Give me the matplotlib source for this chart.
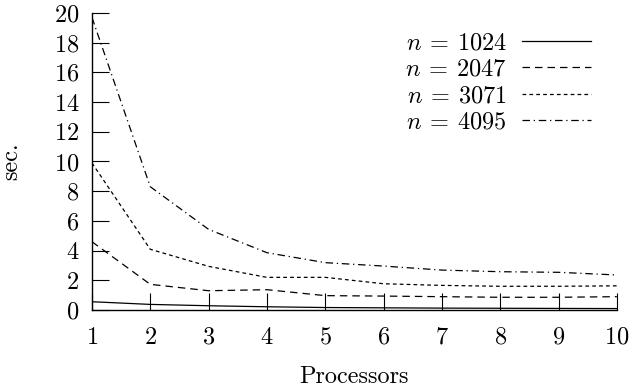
import matplotlib
matplotlib.use('Agg')
import matplotlib.pyplot as plt

plt.rcParams['font.family'] = 'serif'
plt.rcParams['font.serif'] = ['cmr10']
plt.rcParams['mathtext.fontset'] = 'cm'
plt.rcParams['axes.formatter.use_mathtext'] = True

processors = [1, 2, 3, 4, 5, 6, 7, 8, 9, 10]
t1024 = [0.56, 0.38, 0.29, 0.22, 0.17, 0.15, 0.13, 0.12, 0.11, 0.10]
t2047 = [4.6, 1.73, 1.3, 1.37, 0.97, 0.94, 0.9, 0.86, 0.86, 0.9]
t3071 = [9.9, 4.09, 2.94, 2.2, 2.2, 1.77, 1.66, 1.6, 1.6, 1.63]
t4095 = [19.7, 8.3, 5.43, 3.86, 3.19, 2.96, 2.69, 2.58, 2.54, 2.36]
labels = [r'$n \:=\: 1024$', r'$n \:=\: 2047$', r'$n \:=\: 3071$', r'$n \:=\: 4095$']

fs = 17.5
fig = plt.figure(figsize=(6.34, 3.9), dpi=100)
ax = fig.add_axes([0.145, 0.205, 0.828, 0.762])

lw = 0.9
ax.plot(processors, t1024, color='black', lw=lw, label=labels[0])
ax.plot(processors, t2047, color='black', lw=lw, dashes=(6, 4), label=labels[1])
ax.plot(processors, t3071, color='black', lw=lw, dashes=(3, 2.5), label=labels[2])
ax.plot(processors, t4095, color='black', lw=lw, dashes=(6, 3, 1, 3), label=labels[3])

ax.set_xlim(1, 10)
ax.set_ylim(0, 20)
ax.set_xticks(processors)
ax.set_yticks(range(0, 21, 2))
ax.spines['top'].set_visible(False)
ax.spines['right'].set_visible(False)
ax.spines['left'].set_linewidth(1)
ax.spines['bottom'].set_linewidth(1)
ax.tick_params(direction='in', length=12, width=0.8, labelsize=fs)
ax.tick_params(axis='x', pad=12)
ax.tick_params(axis='y', pad=9)

ax.set_xlabel('Processors', fontsize=fs, labelpad=12)
ax.set_ylabel('sec.', fontsize=fs, labelpad=23)

leg = ax.legend(loc='upper right', bbox_to_anchor=(0.974, 0.975), frameon=False,
                markerfirst=False, fontsize=fs, handlelength=2.85,
                labelspacing=0.17, handletextpad=0.6, borderpad=0)

fig.savefig('out.png', dpi=100)
